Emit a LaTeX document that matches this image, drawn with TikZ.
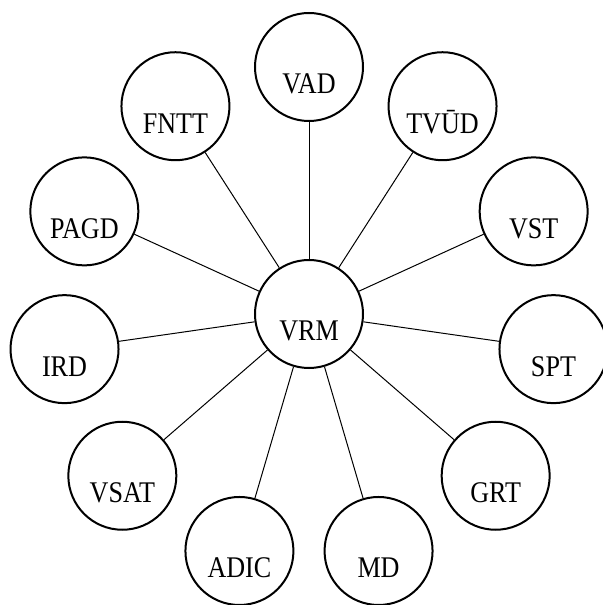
\documentclass[tikz,border=0pt]{standalone}
\usepackage{fontspec}
\setmainfont{Liberation Serif}[FakeStretch=0.87]
\usepackage{tikz}
\usetikzlibrary{positioning}

\begin{document}
\begin{tikzpicture}[x=0.5pt,y=0.5pt]

\tikzstyle{topic}=[circle,draw=black,line width=1pt,fill=white,minimum size=54pt,inner sep=0pt,
                   text height=27pt,text depth=0pt,font=\fontsize{15}{18}\selectfont]
\tikzstyle{link}=[draw=black,line width=0.5pt]

\useasboundingbox (-309,-291) rectangle (293,314);

%centre
\node [topic] (vrm) at (0,0) {VRM};

%ring
\node [topic] (vad)  at (90:247)      {VAD};
\node [topic] (tvud) at (57.27:247)   {TVŪD};
\node [topic] (vst)  at (24.55:247)   {VST};
\node [topic] (spt)  at (-8.18:247)   {SPT};
\node [topic] (grt)  at (-40.91:247)  {GRT};
\node [topic] (md)   at (-73.64:247)  {MD};
\node [topic] (adic) at (-106.36:247) {ADIC};
\node [topic] (vsat) at (-139.09:247) {VSAT};
\node [topic] (ird)  at (-171.82:247) {IRD};
\node [topic] (pagd) at (155.45:247)  {PAGD};
\node [topic] (fntt) at (122.73:247)  {FNTT};

\path [link] (vrm) edge (vad)
      [link] (vrm) edge (tvud)
      [link] (vrm) edge (vst)
      [link] (vrm) edge (spt)
      [link] (vrm) edge (grt)
      [link] (vrm) edge (md)
      [link] (vrm) edge (adic)
      [link] (vrm) edge (vsat)
      [link] (vrm) edge (ird)
      [link] (vrm) edge (pagd)
      [link] (vrm) edge (fntt);

\end{tikzpicture}
\end{document}
